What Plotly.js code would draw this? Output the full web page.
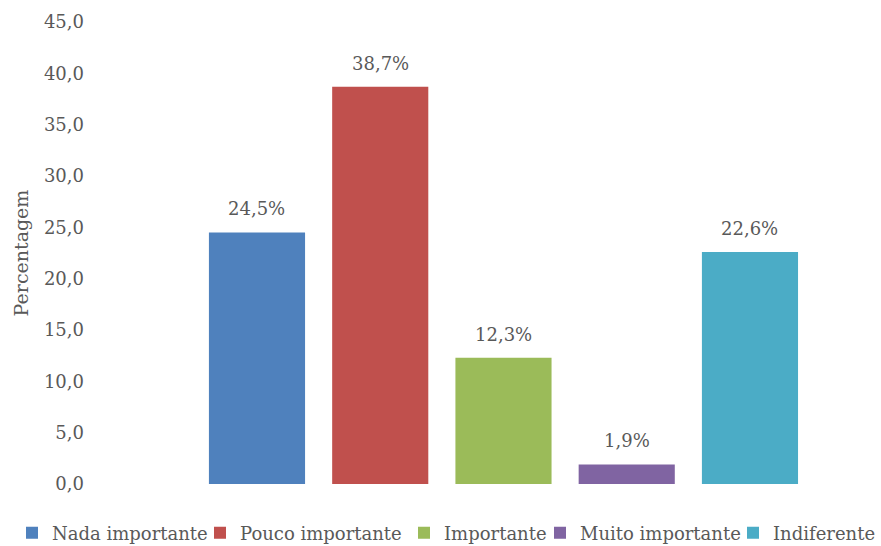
<!DOCTYPE html>
<html>
<head>
<meta charset="utf-8">
<script src="https://cdn.plot.ly/plotly-3.0.1.min.js"></script>
<style>html,body{margin:0;padding:0;background:#fff;}#chart{width:881px;height:546px;}</style>
</head>
<body>
<div id="chart"></div>
<script>
const categories = ["Nada importante", "Pouco importante", "Importante", "Muito importante", "Indiferente"];
const values = [24.5, 38.7, 12.3, 1.9, 22.6];
const colors = ["#4F81BD", "#C0504D", "#9BBB59", "#8064A2", "#4BACC6"];
const yTicks = [0, 5, 10, 15, 20, 25, 30, 35, 40, 45];

const FONT = "'DejaVu Serif', serif";
const GREY = "#595959";
const W = 881, H = 546;
// left edge (px) of each legend entry box
const legendLeft = [12, 200, 404, 540, 733];

const legendIds = categories.map((c, i) => i === 0 ? "legend" : "legend" + (i + 1));

const traces = categories.map((c, i) => ({
  type: "bar",
  name: c,
  x: [i],
  y: [values[i]],
  width: 0.78,
  marker: {color: colors[i]},
  legend: legendIds[i],
  hoverinfo: "skip"
}));

const annotations = categories.map((c, i) => ({
  x: i, y: values[i], xref: "x", yref: "y",
  text: values[i].toFixed(1).replace(".", ",") + "%",
  showarrow: false, yanchor: "bottom", yshift: 11,
  font: {family: FONT, size: 18, color: GREY}
}));

const layout = {
  width: W, height: H,
  margin: {l: 85, r: 1, t: 22, b: 62, autoexpand: false},
  paper_bgcolor: "#fff", plot_bgcolor: "#fff",
  font: {family: FONT, color: GREY},
  separators: ",.",
  barmode: "overlay",
  showlegend: true,
  xaxis: {range: [-1.3955, 5.055], visible: false, showgrid: false, zeroline: false},
  yaxis: {
    range: [0, 45], tickvals: yTicks, tickformat: ".1f",
    showgrid: false, zeroline: false, showline: false, ticks: "",
    tickfont: {family: FONT, size: 18, color: GREY},
    title: {text: "Percentagem", font: {family: FONT, size: 19, color: GREY}, standoff: 10}
  },
  annotations: annotations
};

legendIds.forEach((id, i) => {
  layout[id] = {
    orientation: "h", xref: "container", yref: "container",
    x: legendLeft[i] / W, xanchor: "left",
    y: 1 - 533 / H, yanchor: "middle",
    bgcolor: "rgba(0,0,0,0)",
    font: {family: FONT, size: 18, color: GREY},
    itemwidth: 30
  };
});

Plotly.newPlot("chart", traces, layout, {staticPlot: true, displayModeBar: false});
</script>
</body>
</html>
